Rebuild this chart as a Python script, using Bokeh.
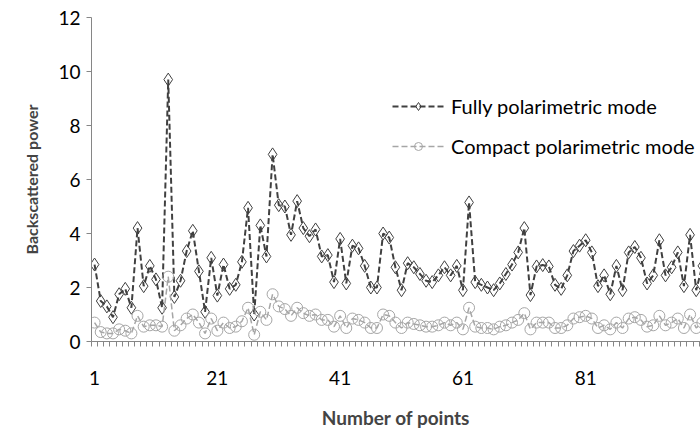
from bokeh.plotting import figure
from bokeh.models import FixedTicker, Range1d, Legend, LegendItem
from bokeh.embed import file_html
from bokeh.resources import INLINE

points = list(range(1, 101))
fully = [2.85, 1.5, 1.3, 0.9, 1.75, 1.95, 1.25, 4.2, 2.05, 2.8,
         2.3, 1.25, 9.7, 1.65, 2.25, 3.35, 4.1, 2.6, 1.1, 3.1,
         1.7, 2.85, 1.95, 2.1, 2.95, 4.95, 1.0, 4.3, 3.15, 6.93,
         5.05, 5.0, 3.95, 5.2, 4.2, 3.9, 4.15, 3.15, 3.2, 2.2,
         3.8, 2.15, 3.55, 3.45, 2.8, 2.0, 2.0, 4.0, 3.85, 2.75,
         1.9, 2.9, 2.75, 2.5, 2.25, 2.2, 2.45, 2.75, 2.45, 2.8,
         1.9, 5.15, 2.2, 2.1, 2.0, 1.9, 2.15, 2.5, 2.85, 3.3,
         4.2, 1.72, 2.78, 2.83, 2.78, 2.1, 1.95, 2.45, 3.35, 3.55,
         3.75, 3.3, 2.05, 2.45, 1.75, 2.8, 1.9, 3.3, 3.5, 3.1,
         2.15, 2.45, 3.75, 2.45, 2.75, 3.3, 2.05, 3.95, 1.9, 2.8]
compact = [0.7, 0.35, 0.3, 0.3, 0.45, 0.4, 0.3, 0.95, 0.55, 0.6,
           0.6, 0.55, 2.4, 0.4, 0.6, 0.85, 1.0, 0.7, 0.3, 0.85,
           0.4, 0.7, 0.5, 0.55, 0.75, 1.25, 0.25, 1.1, 0.8, 1.75,
           1.3, 1.2, 0.95, 1.25, 1.05, 0.95, 1.0, 0.8, 0.8, 0.55,
           0.95, 0.5, 0.85, 0.8, 0.7, 0.5, 0.5, 1.0, 0.95, 0.7,
           0.5, 0.7, 0.65, 0.6, 0.55, 0.55, 0.6, 0.7, 0.6, 0.7,
           0.45, 1.25, 0.55, 0.5, 0.5, 0.45, 0.55, 0.6, 0.7, 0.8,
           1.05, 0.45, 0.7, 0.7, 0.7, 0.5, 0.5, 0.6, 0.85, 0.9,
           0.95, 0.85, 0.5, 0.6, 0.45, 0.7, 0.5, 0.85, 0.9, 0.8,
           0.55, 0.6, 0.95, 0.6, 0.7, 0.85, 0.5, 1.0, 0.5, 0.7]
y_ticks = [0, 2, 4, 6, 8, 10, 12]
x_tick_labels = [1, 21, 41, 61, 81]
series_names = ["Fully polarimetric mode", "Compact polarimetric mode"]

FONT = "Lato"
DARK = "#404040"
LIGHT = "#a6a6a6"
AXIS = "#868686"

p = figure(frame_width=609, frame_height=324, output_backend="svg", toolbar_location=None,
           x_range=Range1d(0.5, 99.7), y_range=Range1d(0, 12),
           min_border_left=91, min_border_right=0, min_border_top=17, min_border_bottom=89)
p.outline_line_color = None
p.xgrid.visible = False
p.ygrid.visible = False

l1 = p.line(points, fully, line_color=DARK, line_width=2, line_dash="6 3")
s1 = p.scatter(points, fully, marker="diamond", size=13, fill_color=None,
               line_color=DARK, line_width=1)
l2 = p.line(points, compact, line_color=LIGHT, line_width=1.5, line_dash="6 3")
s2 = p.scatter(points, compact, marker="circle", size=11, fill_color=None,
               line_color=LIGHT, line_width=1)

legend = Legend(items=[LegendItem(label=series_names[0], renderers=[l1, s1]),
                       LegendItem(label=series_names[1], renderers=[l2, s2])],
                location=(301, 183), border_line_color=None, background_fill_alpha=0,
                padding=0, margin=0, spacing=16, glyph_width=52, glyph_height=20,
                label_standoff=7, label_text_font=FONT, label_text_font_size="20px",
                label_text_color="#000000")
p.add_layout(legend)

ya = p.yaxis[0]
ya.ticker = FixedTicker(ticks=y_ticks)
ya.axis_line_color = AXIS
ya.major_tick_line_color = AXIS
ya.major_tick_out = 5
ya.major_tick_in = 0
ya.minor_tick_line_color = None
ya.major_label_text_font = FONT
ya.major_label_text_font_size = "19px"
ya.major_label_text_color = "#000000"
ya.major_label_standoff = 6
ya.axis_label = "Backscattered power"
ya.axis_label_text_font = FONT
ya.axis_label_text_font_size = "16px"
ya.axis_label_text_font_style = "bold"
ya.axis_label_standoff = 14

xa = p.xaxis[0]
xa.ticker = FixedTicker(ticks=x_tick_labels, minor_ticks=[k + 0.5 for k in range(0, 100)])
xa.axis_line_color = AXIS
xa.major_tick_line_color = None
xa.major_tick_out = 0
xa.major_tick_in = 0
xa.minor_tick_line_color = AXIS
xa.minor_tick_out = 5
xa.minor_tick_in = 0
xa.major_label_text_font = FONT
xa.major_label_text_font_size = "19px"
xa.major_label_text_color = "#000000"
xa.major_label_standoff = 24
xa.axis_label = "Number of points"
xa.axis_label_text_font = FONT
xa.axis_label_text_font_size = "19px"
xa.axis_label_text_font_style = "bold"
xa.axis_label_standoff = 18

open("out.html", "w").write(file_html(p, INLINE))
